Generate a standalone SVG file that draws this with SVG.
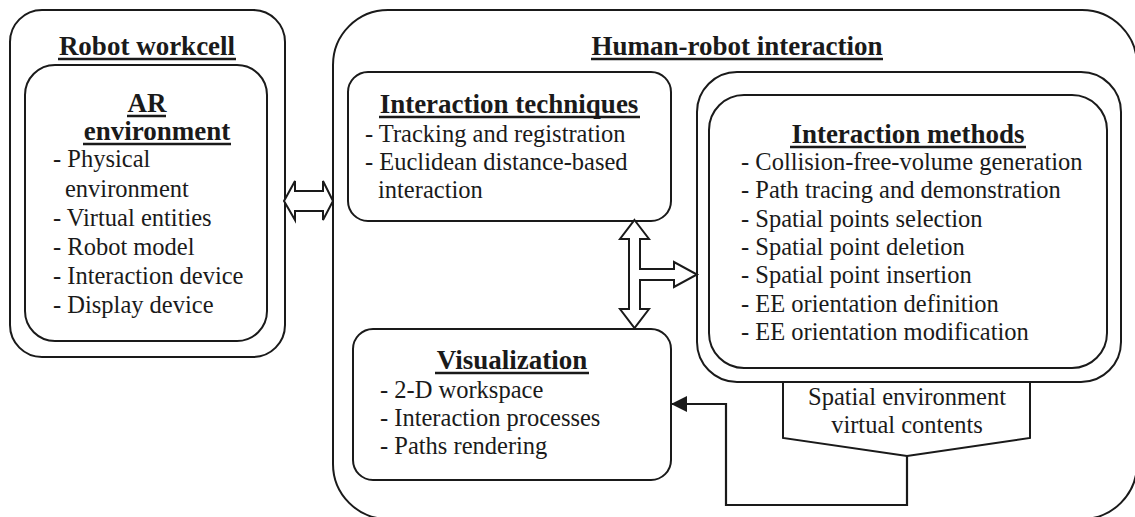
<svg xmlns="http://www.w3.org/2000/svg" width="1135" height="517" viewBox="0 0 1135 517">
<style>
.box{fill:#fff;stroke:#1a1a1a;stroke-width:2}
.t{font-family:"Liberation Serif","Times New Roman",serif;font-size:24.5px;fill:#1a1a1a}
.h{font-family:"Liberation Serif","Times New Roman",serif;font-size:27px;font-weight:bold;fill:#1a1a1a;text-anchor:middle}
.c{text-anchor:middle}
.ul{stroke:#1a1a1a;stroke-width:2.6}
.ln{fill:none;stroke:#1a1a1a;stroke-width:2.2}
.blk{fill:#fff;stroke:#1a1a1a;stroke-width:2;stroke-linejoin:miter}
</style>
<defs>
<marker id="ah" markerWidth="16" markerHeight="16" refX="15" refY="8" orient="auto" markerUnits="userSpaceOnUse">
<path d="M0,0 L16,8 L0,16 Z" fill="#1a1a1a"/>
</marker>
</defs>
<g id="hri">
<rect class="box" x="333" y="10" width="804" height="509" rx="55"/>
<text class="h" x="737" y="55">Human-robot interaction</text>
<line class="ul" x1="591" y1="59" x2="883" y2="59"/>
</g>
<g id="workcell">
<rect class="box" x="10" y="10" width="275" height="347" rx="32"/>
<text class="h" x="147" y="55">Robot workcell</text>
<line class="ul" x1="58" y1="59" x2="236" y2="59"/>
</g>
<g id="ar">
<rect class="box" x="25" y="65" width="242" height="276" rx="30"/>
<text class="h" x="147" y="112">AR</text>
<line class="ul" x1="127" y1="116" x2="166" y2="116"/>
<text class="h" x="157" y="140">environment</text>
<line class="ul" x1="83" y1="144" x2="231" y2="144"/>
<text class="t" x="53" y="167">- Physical</text>
<text class="t" x="65" y="197">environment</text>
<text class="t" x="53" y="226">- Virtual entities</text>
<text class="t" x="53" y="255">- Robot model</text>
<text class="t" x="53" y="284">- Interaction device</text>
<text class="t" x="53" y="313">- Display device</text>
</g>
<g id="techniques">
<rect class="box" x="348" y="72" width="323" height="149" rx="20"/>
<text class="h" x="509" y="113">Interaction techniques</text>
<line class="ul" x1="379" y1="117" x2="640" y2="117"/>
<text class="t" x="365" y="142">- Tracking and registration</text>
<text class="t" x="365" y="170">- Euclidean distance-based</text>
<text class="t" x="378" y="198">interaction</text>
</g>
<g id="methods">
<rect class="box" x="697" y="72" width="424" height="310" rx="40"/>
<rect class="box" x="709" y="95" width="398" height="273" rx="35"/>
<text class="h" x="908" y="143">Interaction methods</text>
<line class="ul" x1="790" y1="147" x2="1026" y2="147"/>
<text class="t" x="741" y="170">- Collision-free-volume generation</text>
<text class="t" x="741" y="198">- Path tracing and demonstration</text>
<text class="t" x="741" y="227">- Spatial points selection</text>
<text class="t" x="741" y="255">- Spatial point deletion</text>
<text class="t" x="741" y="283">- Spatial point insertion</text>
<text class="t" x="741" y="312">- EE orientation definition</text>
<text class="t" x="741" y="340">- EE orientation modification</text>
</g>
<g id="spatial">
<polygon class="box" points="783,382 1030,382 1030,438 907,456 783,438"/>
<text class="t c" x="907" y="405">Spatial environment</text>
<text class="t c" x="907" y="433">virtual contents</text>
</g>
<g id="visualization">
<rect class="box" x="353" y="329" width="318" height="151" rx="20"/>
<text class="h" x="512" y="369">Visualization</text>
<line class="ul" x1="435" y1="373" x2="589" y2="373"/>
<text class="t" x="380" y="398">- 2-D workspace</text>
<text class="t" x="380" y="426">- Interaction processes</text>
<text class="t" x="380" y="454">- Paths rendering</text>
</g>
<g id="connectors">
<polygon class="blk" points="284,201 295,181 295,191 323,191 323,181 333,201 323,220 323,211 295,211 295,220"/>
<polygon class="blk" points="634.5,220 649,239 640,239 640,269 674,269 674,262 697,274.5 674,287 674,280 640,280 640,309 649,309 634.5,328 620,309 629,309 629,239 620,239"/>
<polyline class="ln" points="907,456 907,505 726,505 726,404 672,404" marker-end="url(#ah)"/>
</g>
</svg>
